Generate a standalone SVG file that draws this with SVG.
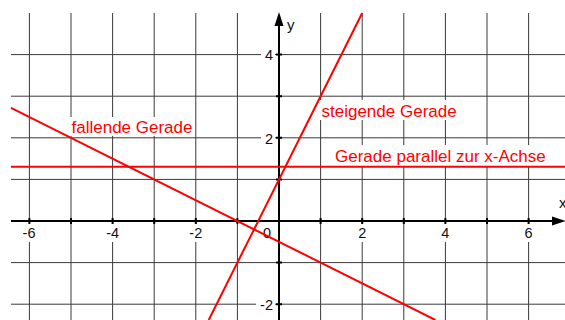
<svg xmlns="http://www.w3.org/2000/svg" width="565" height="320" viewBox="0 0 565 320">
<style>
.grid{stroke:#3a3a3a;stroke-width:1;fill:none}
.axis{stroke:#000;stroke-width:2;fill:none}
.tick{stroke:#000;stroke-width:2}
.bg{fill:#fff}
.num{font-family:"Liberation Sans",Arial,sans-serif;font-size:14.5px;fill:#111}
.lab{font-family:"Liberation Sans",Arial,sans-serif;font-size:17px;fill:#ff0000}
.ax{font-family:"Liberation Sans",Arial,sans-serif;font-size:15px;fill:#111}
.red{stroke:#ff0000;stroke-width:2;fill:none}
</style>
<rect width="565" height="320" fill="#fff"/>
<g id="grid">
<path class="grid" d="M29.4 13V320M71 13V320M112.6 13V320M154.2 13V320M195.8 13V320M237.4 13V320M320.6 13V320M362.2 13V320M403.8 13V320M445.4 13V320M487 13V320M528.6 13V320"/>
<path class="grid" d="M11 54.6H565M11 96.2H565M11 137.8H565M11 179.4H565M11 262.6H565M11 304.2H565"/>
</g>
<g id="label-backgrounds">
<rect class="bg" x="18" y="224" width="22" height="18"/>
<rect class="bg" x="102" y="224" width="22" height="18"/>
<rect class="bg" x="185" y="224" width="22" height="18"/>
<rect class="bg" x="355" y="224" width="15" height="18"/>
<rect class="bg" x="438" y="224" width="15" height="18"/>
<rect class="bg" x="521" y="224" width="15" height="18"/>
<rect class="bg" x="261" y="46" width="14" height="18"/>
<rect class="bg" x="261" y="129" width="14" height="18"/>
<rect class="bg" x="256" y="296" width="19" height="18"/>
<rect class="bg" x="70" y="117" width="125" height="19"/>
<rect class="bg" x="320" y="100" width="138" height="20"/>
<rect class="bg" x="333" y="145" width="213" height="21"/>
</g>
<g id="axes">
<path class="axis" d="M11 221H554M279 320V24"/>
<polygon points="566,221 552,216.5 552,225.5" fill="#000"/>
<polygon points="279,12 274.5,26 283.5,26" fill="#000"/>
<path class="tick" d="M29.4 218V224M71 218V224M112.6 218V224M154.2 218V224M195.8 218V224M237.4 218V224M320.6 218V224M362.2 218V224M403.8 218V224M445.4 218V224M487 218V224M528.6 218V224"/>
<path class="tick" d="M276 54.6H282M276 96.2H282M276 137.8H282M276 179.4H282M276 262.6H282M276 304.2H282"/>
<text class="ax" x="559" y="208">x</text>
<text class="ax" x="287" y="30">y</text>
</g>
<g id="tick-labels">
<text class="num" x="29" y="238" text-anchor="middle">-6</text>
<text class="num" x="112.6" y="238" text-anchor="middle">-4</text>
<text class="num" x="195.8" y="238" text-anchor="middle">-2</text>
<text class="num" x="267" y="238" text-anchor="middle">0</text>
<text class="num" x="362.2" y="238" text-anchor="middle">2</text>
<text class="num" x="445.4" y="238" text-anchor="middle">4</text>
<text class="num" x="528.6" y="238" text-anchor="middle">6</text>
<text class="num" x="273" y="60" text-anchor="end">4</text>
<text class="num" x="273" y="144" text-anchor="end">2</text>
<text class="num" x="273" y="310" text-anchor="end">-2</text>
</g>
<g id="connectors">
<line id="fallende-gerade" class="red" x1="11" y1="107.8" x2="435.4" y2="320"/>
<line id="steigende-gerade" class="red" x1="362.2" y1="13" x2="208.7" y2="320"/>
<line id="parallele-gerade" class="red" x1="11" y1="166.7" x2="565" y2="166.7"/>
</g>
<g id="label-fallende"><text class="lab" x="71.5" y="133.3">fallende Gerade</text></g>
<g id="label-steigende"><text class="lab" x="321.5" y="116.5">steigende Gerade</text></g>
<g id="label-parallel"><text class="lab" x="335" y="161.7">Gerade parallel zur x-Achse</text></g>
</svg>
